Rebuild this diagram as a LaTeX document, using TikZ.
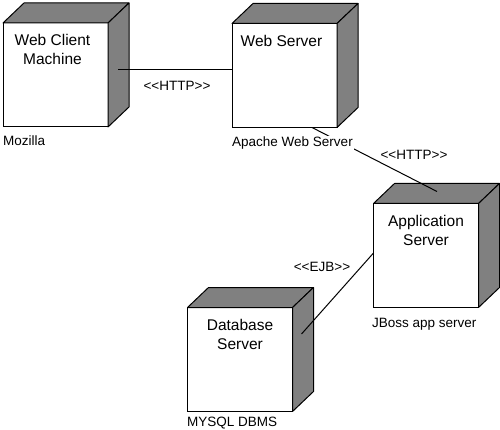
\documentclass[tikz,border=0pt]{standalone}
\usepackage{fontspec}
\setmainfont{Liberation Sans}
\usetikzlibrary{calc}
\definecolor{sidegray}{HTML}{808080}
\tikzset{
  devbox/.style={draw=black, line width=1pt, fill=white, minimum width=105pt, minimum height=104pt, inner sep=0pt, outer sep=0pt},
  face/.style={draw=black, line width=1pt, fill=sidegray, line join=round},
  title/.style={font=\fontsize{15.5}{19}\selectfont, align=center, anchor=base, inner sep=0pt},
  sublabel/.style={font=\fontsize{13.5}{16}\selectfont, anchor=base west, inner sep=1.5pt},
  conlabel/.style={font=\fontsize{13.5}{16}\selectfont, anchor=base, inner sep=0pt},
  link/.style={draw=black, line width=1pt}
}
\newcommand{\cubefaces}[1]{%
  \path[face] (#1.north west) -- ++(21,-20) -- ($(#1.north east)+(21,-20)$) -- (#1.north east) -- cycle;
  \path[face] (#1.north east) -- ++(21,-20) -- ($(#1.south east)+(21,-20)$) -- (#1.south east) -- cycle;
}
\begin{document}
\begin{tikzpicture}[x=1pt,y=-1pt]
\useasboundingbox (0,0) rectangle (500,430);
% device boxes
\node[devbox] (wc) at (55.5,75) {};
\node[devbox] (ws) at (284.5,75.5) {};
\node[devbox] (as) at (426,255.5) {};
\node[devbox] (db) at (240,359.5) {};
\cubefaces{wc}
\cubefaces{ws}
\cubefaces{as}
\cubefaces{db}
% titles (base anchor = baseline of last line)
\node[title] (wct) at ($(wc.north)+(-3,42)$) {Web Client\\Machine};
\node[title] (wst) at ($(ws.north)+(-3,23)$) {Web Server};
\node[title] (ast) at ($(as.north)+(0,42)$) {Application\\Server};
\node[title] (dbt) at ($(db.north)+(0,42)$) {Database\\Server};
% connectors
\coordinate (c1s) at (118,70);
\draw[link] (c1s) -- (c1s -| ws.west);
\coordinate (c2s) at ($(ws.south)+(27.5,0)$);
\coordinate (c2e) at ($(as.north)+(11,-12)$);
\draw[link] (c2s) -- (c2e);
\coordinate (c3s) at ($(as.west)+(0,-2.5)$);
\coordinate (c3e) at ($(db.east)+(9,-25.5)$);
\draw[link] (c3s) -- (c3e);
% connector labels
\node[conlabel] (l1) at (177,91) {<{}<HTTP>{}>};
\node[conlabel] (l2) at (414,160) {<{}<HTTP>{}>};
\node[conlabel] (l3) at (322,271) {<{}<EJB>{}>};
% sub labels
\node[sublabel] (wcs) at (1.5,146) {Mozilla};
\node[sublabel, fill=white] (wss) at (230.5,147) {Apache Web Server};
\node[sublabel] (ass) at (370.5,327) {JBoss app server};
\node[sublabel] (dbs) at (185.5,426) {MYSQL DBMS};
\end{tikzpicture}
\end{document}
